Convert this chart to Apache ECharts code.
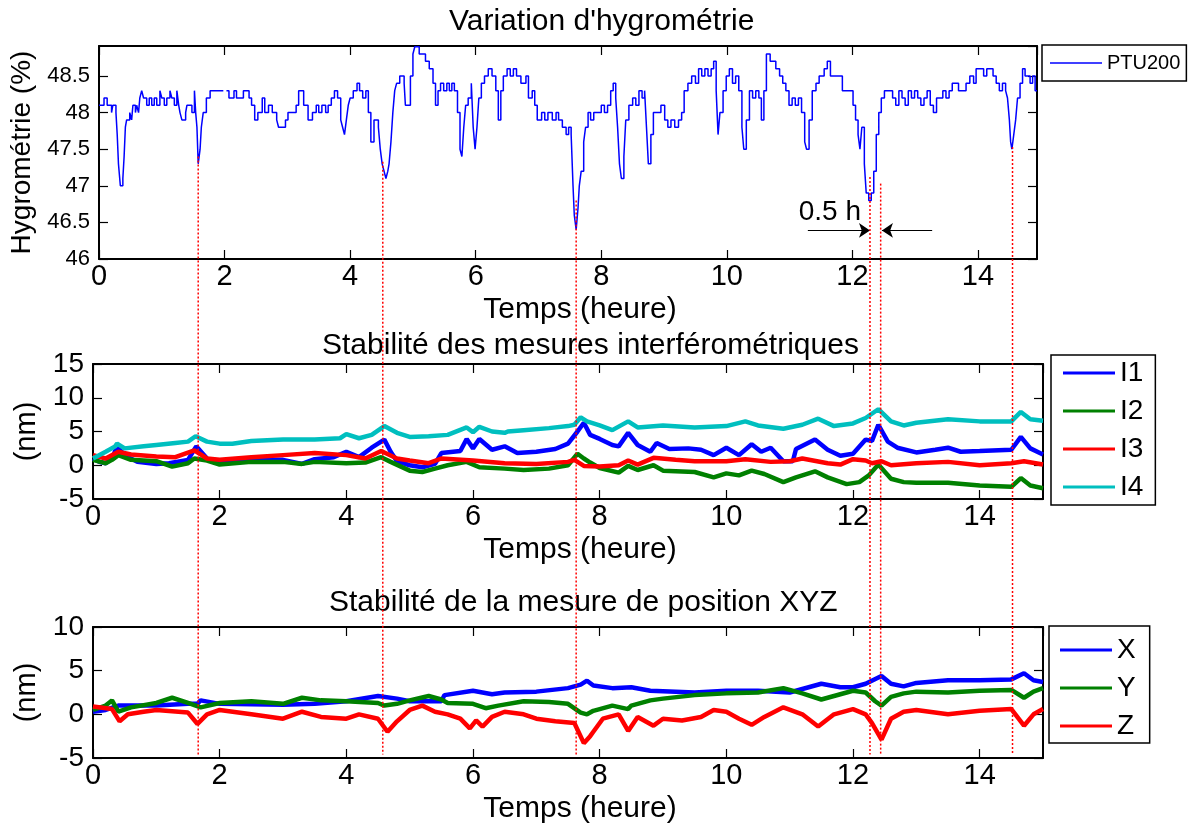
<!DOCTYPE html>
<html>
<head>
<meta charset="utf-8">
<script src="https://cdn.jsdelivr.net/npm/echarts@6/dist/echarts.min.js"></script>
<style>
  html, body { margin: 0; padding: 0; background: #fff; }
  #chart { width: 1190px; height: 832px; }
</style>
</head>
<body>
<div id="chart"></div>
<script>
var hygro = [[0,48.1],[0.08,48.2],[0.13,48.1],[0.2,48.0],[0.22,48.1],[0.27,48.0],[0.29,47.7],[0.31,47.3],[0.34,47.0],[0.38,47.1],[0.4,47.4],[0.42,47.8],[0.44,47.9],[0.49,48.0],[0.52,47.9],[0.54,48.1],[0.58,48.0],[0.6,48.1],[0.63,48.0],[0.65,48.2],[0.68,48.3],[0.71,48.2],[0.76,48.1],[0.8,48.2],[0.84,48.1],[0.88,48.2],[0.92,48.1],[0.97,48.3],[1.0,48.2],[1.04,48.1],[1.08,48.2],[1.13,48.3],[1.16,48.2],[1.2,48.1],[1.24,48.3],[1.27,48.1],[1.29,48.0],[1.32,47.9],[1.38,48.0],[1.4,48.1],[1.48,48.0],[1.52,48.3],[1.54,48.0],[1.56,47.8],[1.58,47.3],[1.61,47.5],[1.63,47.8],[1.66,48.0],[1.71,48.2],[1.77,48.3],[1.95,48.3],[1.98,'-'],[2.03,48.3],[2.07,48.2],[2.15,48.3],[2.19,48.2],[2.3,48.3],[2.39,48.2],[2.43,48.1],[2.48,47.9],[2.53,48.0],[2.6,48.2],[2.64,48.0],[2.7,48.1],[2.76,48.0],[2.83,47.9],[2.86,47.8],[2.97,47.9],[3.01,48.0],[3.14,48.1],[3.18,48.3],[3.26,48.1],[3.33,47.9],[3.4,48.0],[3.46,48.1],[3.5,48.0],[3.55,48.1],[3.61,48.0],[3.65,48.1],[3.7,48.2],[3.75,48.3],[3.8,48.2],[3.85,47.9],[3.88,47.8],[3.91,47.7],[3.94,47.9],[3.97,48.1],[4.0,48.2],[4.05,48.3],[4.11,48.4],[4.15,48.3],[4.2,48.2],[4.25,48.3],[4.29,48.0],[4.33,47.6],[4.38,47.9],[4.45,47.8],[4.48,47.5],[4.51,47.3],[4.54,47.2],[4.57,47.1],[4.6,47.2],[4.62,47.3],[4.65,47.6],[4.68,48.0],[4.71,48.3],[4.74,48.4],[4.79,48.5],[4.86,48.4],[4.88,48.1],[4.96,48.5],[5.0,48.8],[5.03,48.9],[5.1,48.8],[5.2,48.7],[5.26,48.6],[5.32,48.4],[5.36,48.1],[5.4,48.3],[5.44,48.4],[5.49,48.3],[5.54,48.4],[5.58,48.3],[5.62,48.4],[5.66,48.3],[5.71,48.0],[5.75,47.5],[5.78,47.4],[5.81,47.8],[5.84,48.1],[5.88,48.2],[5.93,48.4],[5.96,47.8],[5.99,47.5],[6.02,47.8],[6.05,48.2],[6.09,48.4],[6.14,48.5],[6.2,48.6],[6.26,48.5],[6.32,48.3],[6.36,47.9],[6.4,48.3],[6.44,48.5],[6.5,48.6],[6.55,48.5],[6.6,48.6],[6.65,48.5],[6.72,48.4],[6.8,48.5],[6.84,48.2],[6.9,48.3],[6.94,48.1],[6.98,47.9],[7.05,48.0],[7.1,47.9],[7.15,48.0],[7.22,47.9],[7.28,48.0],[7.32,47.9],[7.38,47.8],[7.44,47.7],[7.48,47.8],[7.52,47.7],[7.55,47.0],[7.57,46.6],[7.6,46.4],[7.63,46.7],[7.65,47.0],[7.68,47.2],[7.72,47.6],[7.75,47.8],[7.79,48.0],[7.83,47.9],[7.88,48.0],[8.0,48.1],[8.05,48.0],[8.1,48.1],[8.15,48.3],[8.19,48.4],[8.23,48.2],[8.26,47.8],[8.29,47.3],[8.32,47.1],[8.36,47.4],[8.39,47.9],[8.44,48.1],[8.5,48.2],[8.55,48.1],[8.6,48.3],[8.65,48.2],[8.69,48.3],[8.72,47.8],[8.75,47.3],[8.79,47.7],[8.83,48.0],[8.95,48.1],[9.01,47.9],[9.06,47.8],[9.11,47.9],[9.17,47.8],[9.23,47.9],[9.28,48.0],[9.32,48.3],[9.38,48.4],[9.44,48.5],[9.5,48.4],[9.55,48.6],[9.6,48.5],[9.65,48.6],[9.7,48.5],[9.75,48.6],[9.79,48.7],[9.83,48.3],[9.86,47.7],[9.89,48.0],[9.94,48.3],[9.99,48.5],[10.04,48.6],[10.09,48.4],[10.14,48.5],[10.19,48.3],[10.24,47.8],[10.27,47.5],[10.31,47.9],[10.36,48.3],[10.41,48.2],[10.46,48.3],[10.51,48.2],[10.55,47.9],[10.59,48.3],[10.63,48.8],[10.69,48.7],[10.78,48.6],[10.84,48.5],[10.89,48.4],[10.94,48.3],[10.99,48.1],[11.04,48.2],[11.09,48.1],[11.14,48.2],[11.19,48.0],[11.24,47.6],[11.27,47.5],[11.31,47.9],[11.36,48.3],[11.42,48.4],[11.47,48.5],[11.55,48.6],[11.6,48.7],[11.65,48.5],[11.84,48.3],[12.01,48.1],[12.05,47.9],[12.09,47.7],[12.12,47.5],[12.15,47.8],[12.19,47.3],[12.22,46.9],[12.26,46.8],[12.3,46.9],[12.34,47.2],[12.38,47.7],[12.42,48.0],[12.46,48.2],[12.51,48.3],[12.64,48.2],[12.69,48.1],[12.74,48.3],[12.79,48.2],[12.84,48.1],[12.89,48.3],[12.94,48.2],[12.99,48.3],[13.04,48.2],[13.09,48.1],[13.14,48.2],[13.19,48.3],[13.24,48.1],[13.29,48.0],[13.34,48.2],[13.44,48.3],[13.49,48.2],[13.54,48.3],[13.59,48.4],[13.69,48.3],[13.81,48.4],[13.87,48.5],[13.93,48.4],[13.97,48.6],[14.09,48.5],[14.14,48.6],[14.24,48.5],[14.29,48.4],[14.34,48.3],[14.39,48.4],[14.44,48.3],[14.47,48.2],[14.5,47.9],[14.52,47.6],[14.54,47.5],[14.57,47.7],[14.6,47.9],[14.63,48.2],[14.67,48.4],[14.71,48.6],[14.75,48.5],[14.83,48.4],[14.87,48.5],[14.91,48.3],[14.94,48.3]];

var i1 = [[0,1.0],[0.1,0.5],[0.2,0.3],[0.3,1.0],[0.38,2.8],[0.5,1.5],[0.7,0.5],[1.0,0.2],[1.2,0.3],[1.5,0.8],[1.63,2.8],[1.8,1.0],[2.0,0.3],[2.5,0.8],[3.0,0.8],[3.3,0.2],[3.5,0.9],[3.8,1.2],[4.0,2.0],[4.2,1.2],[4.4,2.6],[4.6,3.8],[4.7,2.0],[4.8,0.6],[5.0,0.0],[5.2,-0.3],[5.4,0.2],[5.5,1.8],[5.8,2.1],[5.9,3.9],[6.0,2.5],[6.1,3.9],[6.3,2.3],[6.5,2.8],[6.7,1.8],[7.0,2.0],[7.3,2.4],[7.5,3.2],[7.65,5.0],[7.75,6.3],[7.85,4.5],[8.0,3.9],[8.2,3.0],[8.3,2.8],[8.45,4.8],[8.6,3.0],[8.8,2.0],[8.9,3.3],[9.1,2.4],[9.4,2.5],[9.6,2.3],[9.8,1.5],[10.0,2.6],[10.2,1.5],[10.4,3.1],[10.55,2.0],[10.7,2.6],[10.9,0.6],[11.05,0.6],[11.1,2.4],[11.4,3.8],[11.6,2.3],[11.8,1.4],[12.0,1.7],[12.2,3.8],[12.3,3.6],[12.4,6.0],[12.55,3.5],[12.7,2.6],[13.0,1.9],[13.3,2.3],[13.5,2.6],[13.7,2.0],[14.0,2.1],[14.5,2.3],[14.65,4.2],[14.8,2.5],[15,1.6]];
var i2 = [[0,0.8],[0.2,0.3],[0.3,0.8],[0.4,1.5],[0.6,0.8],[1.0,0.6],[1.25,-0.2],[1.5,0.3],[1.6,1.0],[1.8,0.7],[2.0,0.1],[2.5,0.5],[3.0,0.5],[3.3,0.2],[3.5,0.5],[4.0,0.3],[4.3,0.4],[4.55,1.2],[4.7,0.5],[5.0,-0.8],[5.2,-1.0],[5.4,-0.5],[5.6,0.0],[5.9,0.5],[6.1,-0.3],[6.5,-0.5],[6.8,-0.7],[7.2,-0.5],[7.5,0.0],[7.65,1.7],[7.75,1.0],[7.85,0.4],[8.0,-0.4],[8.3,-1.1],[8.45,-0.1],[8.6,-0.7],[8.85,0.0],[9.0,-0.8],[9.5,-1.0],[9.8,-1.8],[10.0,-1.2],[10.2,-1.5],[10.4,-0.8],[10.6,-1.3],[10.9,-2.5],[11.1,-1.8],[11.4,-0.9],[11.6,-1.8],[11.9,-2.8],[12.1,-2.5],[12.25,-1.5],[12.4,0.1],[12.6,-2.0],[12.8,-2.5],[13.0,-2.6],[13.5,-2.6],[14.0,-3.0],[14.5,-3.2],[14.65,-1.9],[14.8,-3.0],[15,-3.4]];
var i3 = [[0,1.5],[0.2,1.0],[0.4,2.0],[0.6,1.6],[1.0,1.3],[1.3,1.2],[1.6,2.2],[1.8,1.0],[2.0,0.8],[2.5,1.2],[3.0,1.5],[3.5,1.8],[4.0,1.5],[4.3,1.0],[4.55,2.1],[4.8,1.0],[5.0,0.7],[5.3,0.3],[5.5,1.0],[6.0,0.7],[6.5,0.3],[7.0,0.2],[7.5,0.5],[7.6,0.8],[7.75,-0.1],[8.0,-0.2],[8.3,0.0],[8.45,0.7],[8.6,0.1],[8.85,1.1],[9.2,0.8],[9.5,0.6],[10.0,0.6],[10.3,0.9],[10.7,0.5],[11.0,0.6],[11.2,1.0],[11.6,0.3],[11.8,0.1],[12.0,0.9],[12.2,0.7],[12.3,0.3],[12.45,0.6],[12.6,0.0],[13.0,0.3],[13.5,0.5],[14.0,0.0],[14.5,0.3],[14.7,0.6],[15,0.1]];
var i4 = [[0,1.0],[0.2,2.0],[0.35,2.8],[0.38,3.2],[0.5,2.5],[0.8,2.8],[1.0,3.0],[1.3,3.3],[1.5,3.5],[1.62,4.3],[1.8,3.5],[2.0,3.2],[2.2,3.2],[2.5,3.6],[3.0,3.8],[3.5,3.8],[3.9,4.0],[4.0,4.6],[4.2,4.0],[4.4,4.5],[4.6,5.8],[4.8,4.8],[5.0,4.2],[5.3,4.3],[5.6,4.5],[5.9,5.6],[6.0,4.9],[6.1,5.7],[6.3,5.0],[6.5,4.8],[6.55,5.0],[6.8,5.2],[7.2,5.5],[7.5,5.8],[7.6,6.0],[7.7,7.1],[7.8,6.5],[8.0,5.9],[8.2,5.2],[8.45,6.5],[8.6,5.6],[9.0,5.9],[9.5,5.6],[10.0,5.8],[10.3,6.5],[10.5,5.9],[10.9,5.4],[11.2,6.0],[11.45,6.9],[11.7,5.8],[12.0,6.2],[12.2,7.0],[12.4,8.3],[12.6,6.5],[12.8,5.9],[13.0,6.3],[13.5,6.8],[14.0,6.5],[14.5,6.5],[14.65,7.9],[14.8,6.8],[15,6.6]];

var posX = [[0,0.3],[0.2,0.5],[0.4,1.0],[1.0,1.0],[1.5,1.2],[1.65,1.2],[1.7,1.6],[2.0,1.2],[3.0,1.1],[3.5,1.2],[4.0,1.5],[4.5,2.1],[4.8,1.8],[5.0,1.5],[5.5,1.5],[5.55,2.2],[6.0,2.7],[6.3,2.3],[6.5,2.5],[7.0,2.6],[7.5,3.0],[7.7,3.4],[7.8,3.85],[7.9,3.3],[8.2,3.0],[8.5,3.1],[8.8,2.7],[9.5,2.5],[10.0,2.7],[10.5,2.7],[11.0,2.5],[11.5,3.5],[11.8,3.1],[12.0,3.1],[12.2,3.5],[12.45,4.4],[12.6,3.5],[12.8,3.2],[13.0,3.6],[13.5,3.9],[14.0,3.9],[14.5,4.0],[14.7,4.7],[14.85,3.9],[15,3.7]];
var posY = [[0,0.5],[0.2,1.0],[0.3,1.6],[0.4,0.3],[0.6,0.8],[1.0,1.3],[1.25,1.9],[1.5,1.3],[1.7,0.8],[2.0,1.3],[2.5,1.5],[3.0,1.2],[3.3,1.9],[3.6,1.6],[4.0,1.5],[4.5,1.3],[4.6,1.0],[4.8,1.2],[5.0,1.6],[5.3,2.1],[5.5,1.7],[5.6,1.3],[6.0,1.2],[6.2,0.7],[6.4,1.0],[6.8,1.5],[7.2,1.4],[7.5,1.2],[7.7,0.2],[7.8,0.0],[7.9,0.4],[8.2,1.0],[8.45,0.6],[8.5,1.0],[8.8,1.6],[9.0,1.8],[9.5,2.2],[10.0,2.4],[10.5,2.5],[10.9,3.0],[11.2,2.4],[11.5,1.7],[11.8,2.3],[12.0,2.7],[12.2,2.5],[12.35,1.5],[12.45,1.0],[12.6,2.0],[12.8,2.4],[13.0,2.6],[13.5,2.5],[14.0,2.7],[14.5,2.8],[14.7,1.9],[14.85,2.6],[15,3.0]];
var posZ = [[0,0.9],[0.3,0.6],[0.42,-0.8],[0.55,0.0],[0.8,0.3],[1.0,0.5],[1.5,0.2],[1.65,-1.1],[1.8,0.0],[2.0,0.5],[2.5,0.0],[3.0,-0.5],[3.3,0.3],[3.6,-0.3],[4.0,-0.5],[4.2,0.0],[4.5,-0.5],[4.65,-2.0],[4.8,-0.8],[5.0,0.5],[5.2,1.0],[5.4,0.3],[5.6,0.0],[5.8,-0.5],[5.95,-1.6],[6.05,-0.7],[6.15,-1.4],[6.3,-0.3],[6.5,0.3],[6.8,0.0],[7.0,-0.5],[7.3,-0.8],[7.6,-1.0],[7.75,-3.3],[7.85,-2.5],[7.9,-2.0],[8.05,-0.5],[8.3,0.0],[8.45,-1.9],[8.6,-0.3],[8.85,-1.3],[9.0,-0.5],[9.3,-0.7],[9.6,-0.3],[9.8,0.5],[10.0,0.3],[10.2,-0.5],[10.4,-1.2],[10.6,-0.3],[10.9,0.8],[11.2,0.0],[11.45,-1.4],[11.7,0.0],[12.0,0.6],[12.2,0.0],[12.3,-1.0],[12.45,-2.9],[12.6,-0.5],[12.8,0.3],[13.0,0.5],[13.5,0.0],[14.0,0.4],[14.5,0.6],[14.7,-1.3],[14.85,0.0],[15,0.6]];

// red dotted markers: time, start value on the humidity curve
var markerTimes = [1.58, 4.52, 7.6, 12.28, 12.45, 14.55];
var markerStart = [47.4, 47.33, 46.8, 47.12, 47.03, 47.53];
var markerEnd = -4.6; // value in the XYZ panel where the markers stop

var titles = ["Variation d'hygrométrie", "Stabilité des mesures interférométriques", "Stabilité de la mesure de position XYZ"];
var interfNames = ["I1", "I2", "I3", "I4"];
var posNames = ["X", "Y", "Z"];

var FONT = "Liberation Sans, Arial, sans-serif";

function bottomAxis(g, max) {
  return {
    type: "value", gridIndex: g, min: 0, max: max, interval: 2, position: "bottom",
    axisLine: { show: true, onZero: false, lineStyle: { color: "#000", width: 2 } },
    axisTick: { show: true, inside: true, length: 9, lineStyle: { color: "#000", width: 1.2 } },
    axisLabel: { color: "#000", fontSize: 29, margin: 3, showMaxLabel: false, fontFamily: FONT },
    splitLine: { show: false },
    name: "Temps (heure)", nameLocation: "middle", nameGap: 36,
    nameTextStyle: { color: "#000", fontSize: 30, lineHeight: 30, padding: [0, 0, 0, 24], fontFamily: FONT }
  };
}
function topAxis(g, max) {
  return {
    type: "value", gridIndex: g, min: 0, max: max, interval: 2, position: "top",
    axisLine: { show: true, onZero: false, lineStyle: { color: "#000", width: 2 } },
    axisTick: { show: true, inside: true, length: 9, lineStyle: { color: "#000", width: 1.2 } },
    axisLabel: { show: false }, splitLine: { show: false }
  };
}
function leftAxis(g, min, max, interval, size, name, nameSize, gap) {
  return {
    type: "value", gridIndex: g, min: min, max: max, interval: interval, position: "left",
    axisLine: { show: true, onZero: false, lineStyle: { color: "#000", width: 2 } },
    axisTick: { show: true, inside: true, length: 9, lineStyle: { color: "#000", width: 1.2 } },
    axisLabel: { color: "#000", fontSize: size, margin: 9, showMaxLabel: g !== 0, fontFamily: FONT },
    splitLine: { show: false },
    name: name, nameLocation: "middle", nameGap: gap,
    nameTextStyle: { color: "#000", fontSize: nameSize, fontFamily: FONT }
  };
}
function rightAxis(g, min, max, interval) {
  return {
    type: "value", gridIndex: g, min: min, max: max, interval: interval, position: "right",
    axisLine: { show: true, onZero: false, lineStyle: { color: "#000", width: 2 } },
    axisTick: { show: true, inside: true, length: 9, lineStyle: { color: "#000", width: 1.2 } },
    axisLabel: { show: false }, splitLine: { show: false }
  };
}
function legendBox(names, left, top, size, pad, iconH) {
  return {
    data: names, orient: "vertical", left: left, top: top, icon: "rect",
    itemWidth: 52, itemHeight: iconH, itemGap: 10, padding: pad,
    borderColor: "#000", borderWidth: 1.5, backgroundColor: "#fff",
    textStyle: { color: "#000", fontSize: size, lineHeight: size, fontFamily: FONT },
    selectedMode: false
  };
}
function noisy(name, data, color, g) {
  return {
    name: name, type: "line", xAxisIndex: 2 * g, yAxisIndex: 2 * g, data: data,
    showSymbol: false, color: color, lineStyle: { color: color, width: 4.5 }, itemStyle: { color: color }
  };
}

var colors4 = ["#0000ff", "#008000", "#ff0000", "#00bfbf"];
var colors3 = ["#0000ff", "#008000", "#ff0000"];

var series = [{
  name: "PTU200", type: "line", xAxisIndex: 0, yAxisIndex: 0, data: hygro, step: "end",
  showSymbol: false, color: "#0000ff", lineStyle: { color: "#0000ff", width: 1.5 }, itemStyle: { color: "#0000ff" },
  markLine: {
    silent: true, animation: false, symbol: ["none", "arrow"], symbolSize: 11,
    label: { show: false }, lineStyle: { color: "#000", width: 1.2, type: "solid" },
    emphasis: { disabled: true },
    data: [
      [{ coord: [11.29, 46.39] }, { coord: [12.28, 46.39] }],
      [{ coord: [13.27, 46.39] }, { coord: [12.47, 46.39] }]
    ]
  }
}];
[i1, i2, i3, i4].forEach(function (d, k) { series.push(noisy(interfNames[k], d, colors4[k], 1)); });
[posX, posY, posZ].forEach(function (d, k) { series.push(noisy(posNames[k], d, colors3[k], 2)); });

var chart = echarts.init(document.getElementById("chart"), null, { renderer: "canvas" });
var option = {
  animation: false,
  textStyle: { fontFamily: FONT },
  title: [
    { text: titles[0], left: 449, top: 7, padding: 0, textStyle: { fontSize: 30, fontWeight: "normal", color: "#000", lineHeight: 30 } },
    { text: titles[1], left: 322, top: 331, padding: 0, textStyle: { fontSize: 30, fontWeight: "normal", color: "#000", lineHeight: 30 } },
    { text: titles[2], left: 329, top: 588, padding: 0, textStyle: { fontSize: 30, fontWeight: "normal", color: "#000", lineHeight: 30 } }
  ],
  grid: [
    { left: 99, top: 46, width: 938, height: 213 },
    { left: 93, top: 364, width: 950, height: 135 },
    { left: 93, top: 627, width: 950, height: 131 }
  ],
  xAxis: [bottomAxis(0, 14.94), topAxis(0, 14.94), bottomAxis(1, 15), topAxis(1, 15), bottomAxis(2, 15), topAxis(2, 15)],
  yAxis: [
    leftAxis(0, 46, 48.91, 0.5, 22, "Hygrométrie (%)", 28, 60), rightAxis(0, 46, 48.91, 0.5),
    leftAxis(1, -5, 15, 5, 28, "(nm)", 29, 50), rightAxis(1, -5, 15, 5),
    leftAxis(2, -5, 10, 5, 28, "(nm)", 29, 50), rightAxis(2, -5, 10, 5)
  ],
  legend: [
    legendBox(["PTU200"], 1042, 45, 20, [8, 6, 8, 8], 1.5),
    legendBox(interfNames, 1051, 355, 28, [4, 12, 4, 12], 3),
    legendBox(posNames, 1049, 626, 28, [10, 14, 3, 11], 3)
  ],
  series: series
};
chart.setOption(option);

// dotted markers crossing the three panels + "0.5 h" label, placed through the chart scales
var graphics = markerTimes.map(function (t, i) {
  var p0 = chart.convertToPixel({ seriesIndex: 0 }, [t, markerStart[i]]);
  var p1 = chart.convertToPixel({ seriesIndex: 5 }, [t, markerEnd]);
  return {
    type: "line", silent: true, z: 100,
    shape: { x1: p0[0], y1: p0[1], x2: p0[0], y2: p1[1] },
    style: { stroke: "#ff0000", lineWidth: 1.5, lineDash: [2, 2] }
  };
});
var lbl = chart.convertToPixel({ seriesIndex: 0 }, [11.64, 46.64]);
graphics.push({
  type: "text", silent: true, z: 100, x: lbl[0], y: lbl[1],
  style: { text: "0.5 h", fontSize: 28, fontFamily: FONT, fill: "#000", align: "center", verticalAlign: "middle" }
});
chart.setOption({ graphic: graphics });
</script>
</body>
</html>
